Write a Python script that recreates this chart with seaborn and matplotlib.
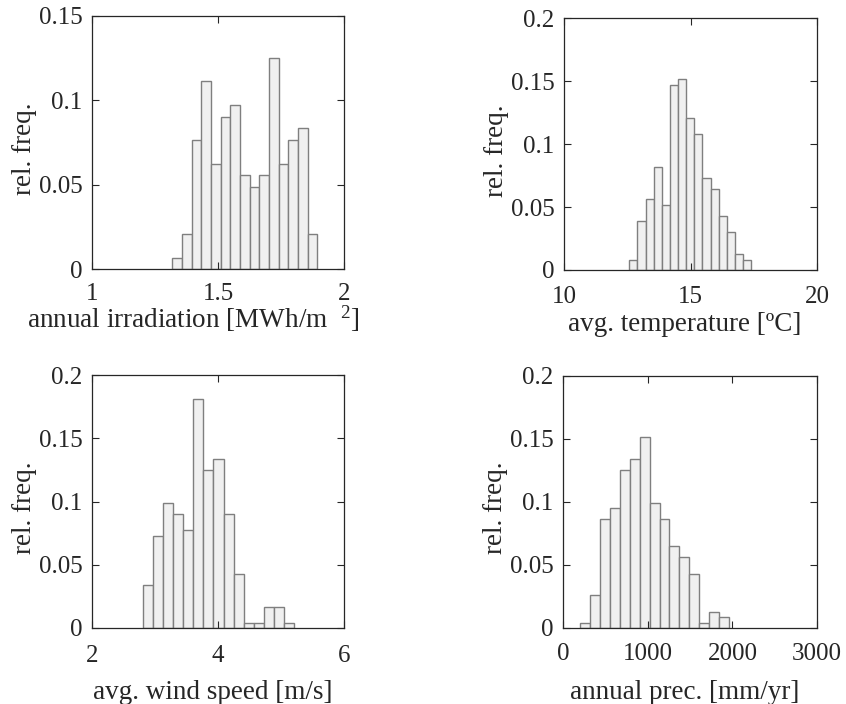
import numpy as np
import pandas as pd
import matplotlib
matplotlib.use("Agg")
import matplotlib.pyplot as plt
import seaborn as sns

# ---- data (relative frequencies) ----
irr_start, irr_width = 1.319, 0.0383
irr_freq = [0.0063, 0.0206, 0.0763, 0.1115, 0.0621, 0.0899, 0.0970, 0.0557,
            0.0484, 0.0557, 0.1249, 0.0621, 0.0763, 0.0836, 0.0206]

temp_start, temp_width = 12.57, 0.322
temp_freq = [0.0079, 0.0389, 0.0562, 0.0816, 0.0514, 0.1468, 0.1515, 0.1208,
             0.1078, 0.0728, 0.0644, 0.0426, 0.0299, 0.0125, 0.0079]

wind_start, wind_width = 2.803, 0.1603
wind_freq = [0.0343, 0.0731, 0.0992, 0.0905, 0.0776, 0.1813, 0.1251, 0.1340,
             0.0905, 0.0430, 0.0040, 0.0040, 0.0169, 0.0169, 0.0040]

prec_start, prec_width = 202.0, 117.0
prec_freq = [0.0042, 0.0259, 0.0864, 0.0948, 0.1252, 0.1339, 0.1511, 0.0993,
             0.0864, 0.0647, 0.0560, 0.0431, 0.0042, 0.0127, 0.0085]

xlabels = ["annual irradiation [MWh/m  $^{2}$]", "avg. temperature [ºC]",
           "avg. wind speed [m/s]", "annual prec. [mm/yr]"]
ylabel = "rel. freq."
xlims = [(1, 2), (10, 20), (2, 6), (0, 3000)]
xticks = [[1, 1.5, 2], [10, 15, 20], [2, 4, 6], [0, 1000, 2000, 3000]]
xticklabels = [["1", "1.5", "2"], ["10", "15", "20"], ["2", "4", "6"],
               ["0", "1000", "2000", "3000"]]
ylims = [(0, 0.15), (0, 0.2), (0, 0.2), (0, 0.2)]
yticks = [[0, 0.05, 0.1, 0.15], [0, 0.05, 0.1, 0.15, 0.2],
          [0, 0.05, 0.1, 0.15, 0.2], [0, 0.05, 0.1, 0.15, 0.2]]
yticklabels = [["0", "0.05", "0.1", "0.15"],
               ["0", "0.05", "0.1", "0.15", "0.2"],
               ["0", "0.05", "0.1", "0.15", "0.2"],
               ["0", "0.05", "0.1", "0.15", "0.2"]]

sns.set_theme(style="ticks")
plt.rcParams["font.family"] = ["Liberation Serif", "DejaVu Serif"]
plt.rcParams["mathtext.fontset"] = "custom"
plt.rcParams["mathtext.rm"] = "Liberation Serif"
plt.rcParams["mathtext.it"] = "Liberation Serif"
plt.rcParams["font.size"] = 18

fig = plt.figure(figsize=(8.46, 7.04), dpi=100)
positions = [
    [92 / 846, 1 - 269 / 704, (344.3 - 92) / 846, (269 - 16) / 704],
    [564.3 / 846, 1 - 270 / 704, (817 - 564.3) / 846, (270 - 18.3) / 704],
    [92 / 846, 1 - 628 / 704, (344.3 - 92) / 846, (628 - 375.3) / 704],
    [563.3 / 846, 1 - 628 / 704, (817 - 563.3) / 846, (628 - 375.7) / 704],
]
xlabel_xy = [(0.40, -0.137), (0.478, -0.167), (0.48, -0.206), (0.48, -0.206)]
xtick_pad = [10.0, 11.5, 12.5, 11.0]

series = [(irr_start, irr_width, irr_freq), (temp_start, temp_width, temp_freq),
          (wind_start, wind_width, wind_freq), (prec_start, prec_width, prec_freq)]

for i, (start, width, freq) in enumerate(series):
    ax = fig.add_axes(positions[i])
    n = len(freq)
    edges = start + width * np.arange(n + 1)
    centers = (edges[:-1] + edges[1:]) / 2
    df = pd.DataFrame({"x": centers, "w": freq})
    sns.histplot(data=df, x="x", weights="w", binwidth=width,
                 binrange=(float(edges[0]), float(edges[-1])), stat="count",
                 color="#f0f0f0", edgecolor="#7f7f7f", linewidth=1.0,
                 alpha=1.0, ax=ax)
    ax.set_xlim(*xlims[i])
    ax.set_ylim(*ylims[i])
    ax.set_xticks(xticks[i])
    ax.set_xticklabels(xticklabels[i])
    ax.set_yticks(yticks[i])
    ax.set_yticklabels(yticklabels[i])
    ax.set_xlabel(xlabels[i], fontsize=19.5, color="#262626")
    ax.set_ylabel(ylabel, fontsize=19.5, color="#262626")
    ax.tick_params(direction="in", length=5, width=0.8, top=True, right=True,
                   labelsize=18, colors="#262626")
    ax.tick_params(axis="x", pad=xtick_pad[i])
    ax.tick_params(axis="y", pad=7)
    ax.xaxis.set_label_coords(*xlabel_xy[i])
    ax.yaxis.set_label_coords(-0.218, 0.475)
    for s in ax.spines.values():
        s.set_visible(True)
        s.set_linewidth(0.9)
        s.set_color("#262626")
    ax.set_axisbelow(False)

fig.savefig("out.png", dpi=100)
